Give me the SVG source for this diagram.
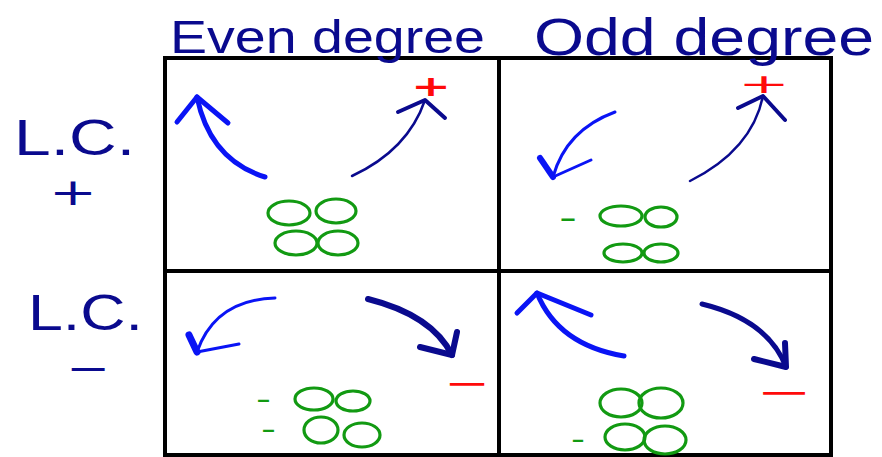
<svg xmlns="http://www.w3.org/2000/svg" width="882" height="457" viewBox="0 0 882 457">
<style>
.grid{fill:none;stroke:#000;stroke-width:4}
.nv{fill:#0a0a8e;font-family:"Liberation Sans",Arial,sans-serif}
.nd{fill:#0a0a8e;font-family:"DejaVu Sans",sans-serif}
.a{fill:none;stroke-linecap:round;stroke-linejoin:round}
.b{stroke:#0a14f5}
.n{stroke:#0a0a8e}
.g{fill:none;stroke:#129a12;stroke-width:3.2}
.gt{fill:#129a12;font-family:"DejaVu Sans",sans-serif}
.rt{fill:#ff0a0a;font-family:"DejaVu Sans",sans-serif}
</style>
<rect width="882" height="457" fill="#fff"/>
<g id="grid">
<rect class="grid" x="165" y="58" width="666" height="397"/>
<line class="grid" x1="499" y1="58" x2="499" y2="455"/>
<line class="grid" x1="165" y1="271" x2="831" y2="271"/>
</g>
<g id="headers">
<text class="nv" x="170" y="53" font-size="46" textLength="315" lengthAdjust="spacingAndGlyphs">Even degree</text>
<text class="nv" x="534" y="55" font-size="52" textLength="340" lengthAdjust="spacingAndGlyphs">Odd degree</text>
<text class="nv" x="14" y="155" font-size="50" textLength="121" lengthAdjust="spacingAndGlyphs">L.C.</text>
<text class="nd" x="73" y="205" font-size="38" text-anchor="middle" textLength="48" lengthAdjust="spacingAndGlyphs">+</text>
<text class="nv" x="28" y="330" font-size="50" textLength="115" lengthAdjust="spacingAndGlyphs">L.C.</text>
<text class="nd" x="66" y="381" font-size="36" textLength="44" lengthAdjust="spacingAndGlyphs">−</text>
</g>
<g id="cell-even-pos">
<path class="a b" stroke-width="5" d="M265,177 Q210,160 197,97"/>
<path class="a b" stroke-width="5" d="M177,122 L197,97 L228,123"/>
<path class="a n" stroke-width="2.5" d="M352,176 Q408,150 425,100"/>
<path class="a n" stroke-width="4" d="M398,112 L425,100 L445,118"/>
<text class="rt" x="431" y="96" font-size="28" text-anchor="middle" font-weight="bold" textLength="40" lengthAdjust="spacingAndGlyphs">+</text>
<ellipse class="g" cx="289" cy="213" rx="21" ry="12"/>
<ellipse class="g" cx="336" cy="211" rx="20" ry="12"/>
<ellipse class="g" cx="296" cy="243" rx="21" ry="12"/>
<ellipse class="g" cx="338" cy="243" rx="20" ry="12"/>
</g>
<g id="cell-odd-pos">
<path class="a b" stroke-width="3" d="M615,112 Q566,130 553,177"/>
<path class="a b" stroke-width="3" d="M553,177 L591,160"/>
<path class="a b" stroke-width="6" d="M540,158 L553,177"/>
<path class="a n" stroke-width="2.5" d="M690,181 Q752,150 763,96"/>
<path class="a n" stroke-width="4" d="M738,108 L763,96 L785,120"/>
<text class="rt" x="764" y="93" font-size="27" text-anchor="middle" textLength="52" lengthAdjust="spacingAndGlyphs">+</text>
<text class="gt" x="559" y="228" font-size="30" textLength="18" lengthAdjust="spacingAndGlyphs">-</text>
<ellipse class="g" cx="621" cy="216" rx="21" ry="10"/>
<ellipse class="g" cx="661" cy="217" rx="16" ry="10"/>
<ellipse class="g" cx="623" cy="253" rx="19" ry="9"/>
<ellipse class="g" cx="661" cy="253" rx="17" ry="9"/>
</g>
<g id="cell-even-neg">
<path class="a b" stroke-width="3" d="M275,298 Q215,300 197,352"/>
<path class="a b" stroke-width="3" d="M197,352 L239,344"/>
<path class="a b" stroke-width="7" d="M189,335 L197,352"/>
<path class="a n" stroke-width="6" d="M368,299 Q432,315 452,355"/>
<path class="a n" stroke-width="6" d="M457,332 L452,355 L420,347"/>
<text class="rt" x="444" y="395" font-size="34" textLength="46" lengthAdjust="spacingAndGlyphs">−</text>
<text class="gt" x="256" y="409" font-size="28" textLength="15" lengthAdjust="spacingAndGlyphs">-</text>
<text class="gt" x="261" y="439" font-size="28" textLength="15" lengthAdjust="spacingAndGlyphs">-</text>
<ellipse class="g" cx="314" cy="399" rx="19" ry="11"/>
<ellipse class="g" cx="353" cy="401" rx="17" ry="10"/>
<ellipse class="g" cx="321" cy="430" rx="17" ry="13"/>
<ellipse class="g" cx="362" cy="435" rx="18" ry="12"/>
</g>
<g id="cell-odd-neg">
<path class="a b" stroke-width="5" d="M624,356 Q558,345 537,293"/>
<path class="a b" stroke-width="5" d="M517,313 L537,293 L591,315"/>
<path class="a n" stroke-width="5" d="M702,304 Q768,320 786,367"/>
<path class="a n" stroke-width="6" d="M785,343 L786,367 L754,359"/>
<text class="rt" x="756" y="404" font-size="34" textLength="56" lengthAdjust="spacingAndGlyphs">−</text>
<text class="gt" x="571" y="449" font-size="28" textLength="14" lengthAdjust="spacingAndGlyphs">-</text>
<ellipse class="g" cx="621" cy="403" rx="21" ry="14"/>
<ellipse class="g" cx="661" cy="403" rx="22" ry="15"/>
<ellipse class="g" cx="625" cy="437" rx="20" ry="13"/>
<ellipse class="g" cx="665" cy="440" rx="21" ry="14"/>
</g>
</svg>
